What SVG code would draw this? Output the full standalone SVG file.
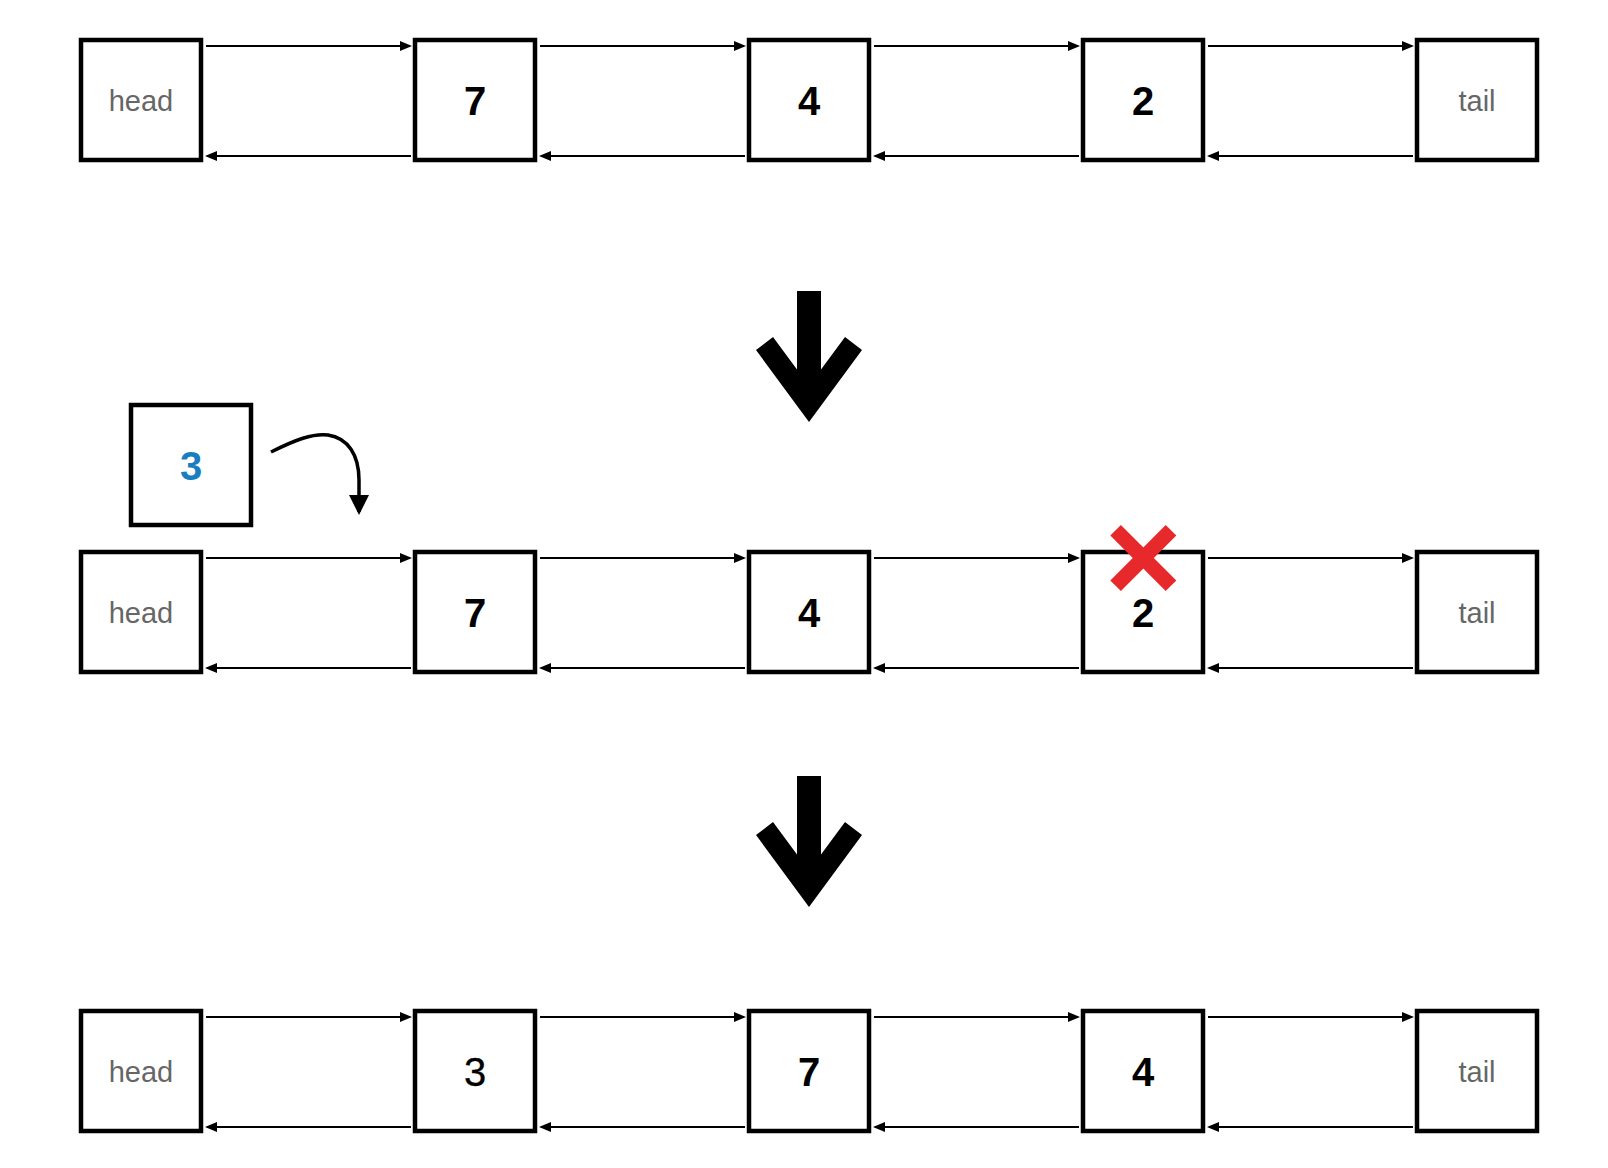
<svg xmlns="http://www.w3.org/2000/svg" width="1608" height="1168" viewBox="0 0 1608 1168">
<defs>
<marker id="ah" markerUnits="userSpaceOnUse" markerWidth="12" markerHeight="10" refX="10" refY="5" orient="auto" overflow="visible">
<path d="M0,0 L12,5 L0,10 z" fill="#000"/>
</marker>
<marker id="ahBig" markerUnits="userSpaceOnUse" markerWidth="20" markerHeight="20" refX="17" refY="10" orient="auto" overflow="visible">
<path d="M0,0 L20,10 L0,20 z" fill="#000"/>
</marker>
<polygon id="bigArrow" points="797,291 821,291 821,369.6 845,337 862,350 809,422 756,350 773,337 797,369.6" fill="#000"/>
</defs>
<style>
.box{fill:#fff;stroke:#000;stroke-width:4.5}
.lbl{font-family:"Liberation Sans",Arial,Helvetica,sans-serif;font-size:29px;fill:#666;text-anchor:middle}
.num{font-family:"Liberation Sans",Arial,Helvetica,sans-serif;font-size:40px;font-weight:bold;fill:#000;text-anchor:middle}
.reg{font-weight:normal;stroke:#000;stroke-width:0.3}
.blue{fill:#1a7dc1}
.ln{stroke:#000;stroke-width:2;fill:none;marker-end:url(#ah)}
</style>
<rect width="1608" height="1168" fill="#fff"/>

<g id="connectors">
<!-- row 1 -->
<line class="ln" x1="206" y1="46" x2="410" y2="46"/>
<line class="ln" x1="540" y1="46" x2="744" y2="46"/>
<line class="ln" x1="874" y1="46" x2="1078" y2="46"/>
<line class="ln" x1="1208" y1="46" x2="1412" y2="46"/>
<line class="ln" x1="411" y1="156" x2="207" y2="156"/>
<line class="ln" x1="745" y1="156" x2="541" y2="156"/>
<line class="ln" x1="1079" y1="156" x2="875" y2="156"/>
<line class="ln" x1="1413" y1="156" x2="1209" y2="156"/>
<!-- row 2 -->
<line class="ln" x1="206" y1="558" x2="410" y2="558"/>
<line class="ln" x1="540" y1="558" x2="744" y2="558"/>
<line class="ln" x1="874" y1="558" x2="1078" y2="558"/>
<line class="ln" x1="1208" y1="558" x2="1412" y2="558"/>
<line class="ln" x1="411" y1="668" x2="207" y2="668"/>
<line class="ln" x1="745" y1="668" x2="541" y2="668"/>
<line class="ln" x1="1079" y1="668" x2="875" y2="668"/>
<line class="ln" x1="1413" y1="668" x2="1209" y2="668"/>
<!-- row 3 -->
<line class="ln" x1="206" y1="1017" x2="410" y2="1017"/>
<line class="ln" x1="540" y1="1017" x2="744" y2="1017"/>
<line class="ln" x1="874" y1="1017" x2="1078" y2="1017"/>
<line class="ln" x1="1208" y1="1017" x2="1412" y2="1017"/>
<line class="ln" x1="411" y1="1127" x2="207" y2="1127"/>
<line class="ln" x1="745" y1="1127" x2="541" y2="1127"/>
<line class="ln" x1="1079" y1="1127" x2="875" y2="1127"/>
<line class="ln" x1="1413" y1="1127" x2="1209" y2="1127"/>
<!-- insert curve -->
<path d="M271,452 C295,440 313,433 328,435 C348,438 359,455 359,480 L359,512" stroke="#000" stroke-width="3.5" fill="none" marker-end="url(#ahBig)"/>
</g>

<g id="step-arrows">
<use href="#bigArrow"/>
<use href="#bigArrow" transform="translate(0,485)"/>
</g>

<!-- row 1 nodes -->
<g id="r1-head"><rect class="box" x="81" y="40" width="120" height="120"/><text class="lbl" x="141" y="111">head</text></g>
<g id="r1-7"><rect class="box" x="415" y="40" width="120" height="120"/><text class="num" x="475" y="115">7</text></g>
<g id="r1-4"><rect class="box" x="749" y="40" width="120" height="120"/><text class="num" x="809" y="115">4</text></g>
<g id="r1-2"><rect class="box" x="1083" y="40" width="120" height="120"/><text class="num" x="1143" y="115">2</text></g>
<g id="r1-tail"><rect class="box" x="1417" y="40" width="120" height="120"/><text class="lbl" x="1477" y="111">tail</text></g>

<!-- new node -->
<g id="new-3"><rect class="box" x="131" y="405" width="120" height="120"/><text class="num blue" x="191" y="480">3</text></g>

<!-- row 2 nodes -->
<g id="r2-head"><rect class="box" x="81" y="552" width="120" height="120"/><text class="lbl" x="141" y="623">head</text></g>
<g id="r2-7"><rect class="box" x="415" y="552" width="120" height="120"/><text class="num" x="475" y="627">7</text></g>
<g id="r2-4"><rect class="box" x="749" y="552" width="120" height="120"/><text class="num" x="809" y="627">4</text></g>
<g id="r2-2"><rect class="box" x="1083" y="552" width="120" height="120"/><text class="num" x="1143" y="627">2</text></g>
<g id="r2-tail"><rect class="box" x="1417" y="552" width="120" height="120"/><text class="lbl" x="1477" y="623">tail</text></g>
<g id="remove-mark">
<line x1="1115.6" y1="530.3" x2="1171" y2="585.7" stroke="#e8292b" stroke-width="15"/>
<line x1="1171" y1="530.3" x2="1115.6" y2="585.7" stroke="#e8292b" stroke-width="15"/>
</g>

<!-- row 3 nodes -->
<g id="r3-head"><rect class="box" x="81" y="1011" width="120" height="120"/><text class="lbl" x="141" y="1082">head</text></g>
<g id="r3-3"><rect class="box" x="415" y="1011" width="120" height="120"/><text class="num reg" x="475" y="1086">3</text></g>
<g id="r3-7"><rect class="box" x="749" y="1011" width="120" height="120"/><text class="num" x="809" y="1086">7</text></g>
<g id="r3-4"><rect class="box" x="1083" y="1011" width="120" height="120"/><text class="num" x="1143" y="1086">4</text></g>
<g id="r3-tail"><rect class="box" x="1417" y="1011" width="120" height="120"/><text class="lbl" x="1477" y="1082">tail</text></g>
</svg>
